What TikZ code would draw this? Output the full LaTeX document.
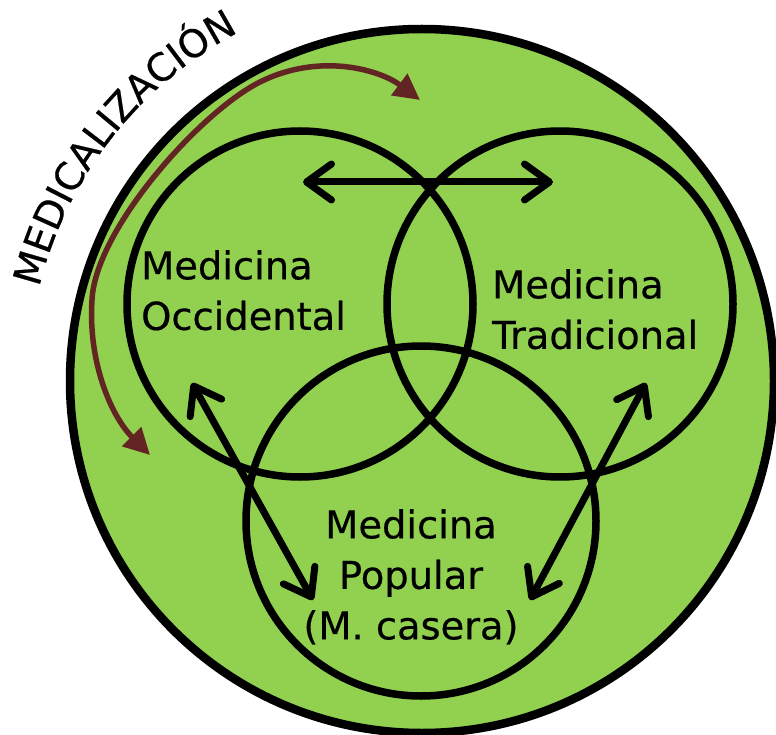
\documentclass[tikz,border=0pt]{standalone}
\usepackage{fontspec}
\setmainfont{DejaVu Sans}[FakeBold=0.5]
\usetikzlibrary{arrows.meta,decorations.text}
\definecolor{lgreen}{HTML}{92D050}
\definecolor{mbrown}{HTML}{632523}
\begin{document}
\begin{tikzpicture}[x=1pt,y=1pt,
  ring/.style={line width=7.5pt, draw=black},
  bigring/.style={line width=8.5pt, draw=black, fill=lgreen},
  barb/.tip={Straight Barb[length=25pt,width=36pt,line cap=round,line join=round]},
  dblarrow/.style={line width=7pt, line cap=round, barb-barb},
  lbl/.style={inner sep=0pt, font=\fontsize{38.4}{50.5}\selectfont},
  medarrow/.style={draw=mbrown, line width=5.5pt, {Triangle[length=26pt,width=26pt]}-{Triangle[length=26pt,width=26pt]}}
]
\useasboundingbox (0,0) rectangle (776,-735);
\clip (0,0) rectangle (776,-735);

% centres
\coordinate (cbig) at (422,-381);
\coordinate (cocc) at (300,-304);
\coordinate (ctra) at (560,-304);
\coordinate (cpop) at (421,-521);

% big circle
\draw[bigring] (cbig) circle[radius=352];

% three circles
\draw[ring] (cocc) circle[radius=173];
\draw[ring] (ctra) circle[radius=173];
\draw[ring] (cpop) circle[radius=175];

% medicalization arrow
\coordinate (b1) at (150,-455);
\coordinate (b2) at (420,-100);
\draw[medarrow] (b1) .. controls (110,-415) and (88,-360) .. (92,-300)
  .. controls (95,-230) and (200,-112) .. (260,-82)
  .. controls (320,-52) and (380,-70) .. (b2);

% double arrows
\coordinate (hL) at (303,-182);
\coordinate (hR) at (553,-182);
\coordinate (dL1) at (192,-383);
\coordinate (dL2) at (313,-600);
\coordinate (dR1) at (646,-383);
\coordinate (dR2) at (530,-600);
\draw[dblarrow] (hL) -- (hR);
\draw[dblarrow] (dL1) -- (dL2);
\draw[dblarrow] (dR1) -- (dR2);

% labels
\node[lbl, anchor=north west, align=left] (occ) at (141,-250) {Medicina\\Occidental};
\node[lbl, anchor=north west, align=left] (tra) at (492,-269) {Medicina\\Tradicional};
\node[lbl, anchor=north, align=center] (pop) at (411,-509) {Medicina\\Popular\\(M. casera)};

% curved title
\path[decorate, decoration={text along path, text align=center,
  text={|\fontsize{38.4}{46}\selectfont|MEDICALIZACIÓN}}]
  (cbig) ++(168:394) arc[start angle=168, end angle=116, radius=394];
\end{tikzpicture}
\end{document}
